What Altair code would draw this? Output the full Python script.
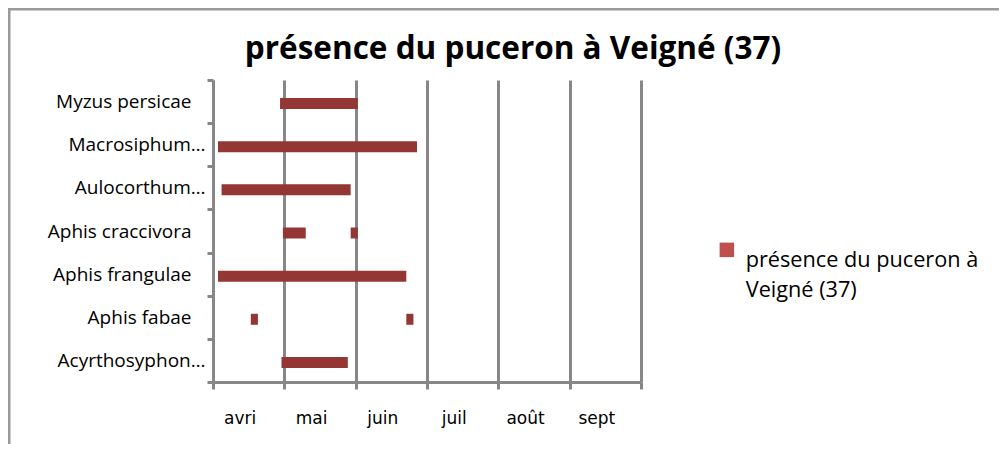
import json
import altair as alt
import pandas as pd

# ---- data ----
title_text = "présence du puceron à Veigné (37)"
series_name = "présence du puceron à Veigné (37)"
legend_lines = ["présence du puceron à", "Veigné (37)"]
species_order = ["Myzus persicae", "Macrosiphum…", "Aulocorthum…", "Aphis craccivora",
                 "Aphis frangulae", "Aphis fabae", "Acyrthosyphon…"]
seg_species = ["Myzus persicae", "Macrosiphum…", "Aulocorthum…", "Aphis craccivora",
               "Aphis craccivora", "Aphis frangulae", "Aphis fabae", "Aphis fabae",
               "Acyrthosyphon…"]
seg_start = [0.94, 0.07, 0.12, 0.98, 1.93, 0.07, 0.53, 2.71, 0.96]   # months since 1 April
seg_end = [2.03, 2.86, 1.93, 1.30, 2.03, 2.71, 0.63, 2.81, 1.89]
months = ["avri", "mai", "juin", "juil", "août", "sept"]

df = pd.DataFrame({"espece": seg_species, "debut": seg_start, "fin": seg_end,
                   "serie": series_name})
leg_df = pd.DataFrame({"serie": [series_name]})
frame_df = pd.DataFrame({"k": [0]})

GRAY = "#878787"
W, H = 428, 302
tick_vals = [i / 2 for i in range(2 * len(months) + 1)]
month_expr = json.dumps(months, ensure_ascii=False)
is_int = "datum.value % 1 == 0"

x_axis = alt.Axis(
    values=tick_vals, title=None,
    labelExpr=f"(datum.value % 1) == 0.5 ? {month_expr}[floor(datum.value)] : ''",
    grid=True, gridColor=GRAY, gridWidth=3,
    gridOpacity={"condition": {"test": is_int, "value": 1}, "value": 0},
    tickOpacity={"condition": {"test": is_int, "value": 1}, "value": 0},
    tickColor=GRAY, tickWidth=3, tickSize=7,
    domainColor=GRAY, domainWidth=3,
    labelFont="DejaVu Sans", labelFontSize=17, labelColor="black",
    labelBaseline="alphabetic", labelPadding=34, labelOffset=-9,
    labelFlush=False, labelOverlap=False,
)
y_axis = alt.Axis(
    title=None, tickBand="extent", grid=False,
    domainColor=GRAY, domainWidth=3, tickColor=GRAY, tickWidth=3, tickSize=6,
    labelFont="Open Sans", labelFontSize=19, labelColor="black", labelLimit=300,
    labelPadding=2,
    labelExpr="indexof(datum.label, '…') >= 0 ? datum.label : datum.label + '\u2800'",
)

frame = alt.Chart(frame_df).mark_rect(filled=False, stroke="#9a9a9a", strokeWidth=3,
                                      clip=False).encode(
    x=alt.value(-204), x2=alt.value(2000), y=alt.value(-71), y2=alt.value(2000))

bars = alt.Chart(df).mark_bar(size=11, color="#943634", yOffset=2).encode(
    x=alt.X("debut:Q", scale=alt.Scale(domain=[0, len(months)], nice=False, zero=False),
            axis=x_axis),
    x2="fin:Q",
    y=alt.Y("espece:N", sort=species_order,
            scale=alt.Scale(domain=species_order, paddingInner=0, paddingOuter=0),
            axis=y_axis),
)

legend_layer = alt.Chart(leg_df).mark_point(shape="square", filled=True, size=0,
                                            opacity=1).encode(
    x=alt.value(0), y=alt.value(0),
    color=alt.Color("serie:N", scale=alt.Scale(range=["#C0504D"]),
                    legend=alt.Legend(
                        title=None, orient="none", legendX=503, legendY=159,
                        symbolType="square", symbolSize=210, symbolStrokeWidth=0,
                        symbolOpacity=1,
                        labelFont="Open Sans", labelFontSize=21.7, labelColor="black",
                        labelLimit=500, labelBaseline="top", labelOffset=8,
                        labelExpr=json.dumps(legend_lines, ensure_ascii=False))),
)

chart = alt.layer(frame, bars, legend_layer).properties(
    width=W, height=H,
    title=alt.Title(title_text, font="Open Sans", fontSize=31.5, fontWeight="bold",
                    color="black", anchor="middle", baseline="alphabetic",
                    dx=86, offset=-82.5),
    padding={"left": 205, "top": 72, "right": 358, "bottom": 62},
    autosize=alt.AutoSizeParams(type="none"),
).configure(
    view=alt.ViewConfig(strokeOpacity=0),
    style={"guide-label": {"lineHeight": 30}},
)

chart.save("out.html", embed_options={"renderer": "svg", "actions": False})
